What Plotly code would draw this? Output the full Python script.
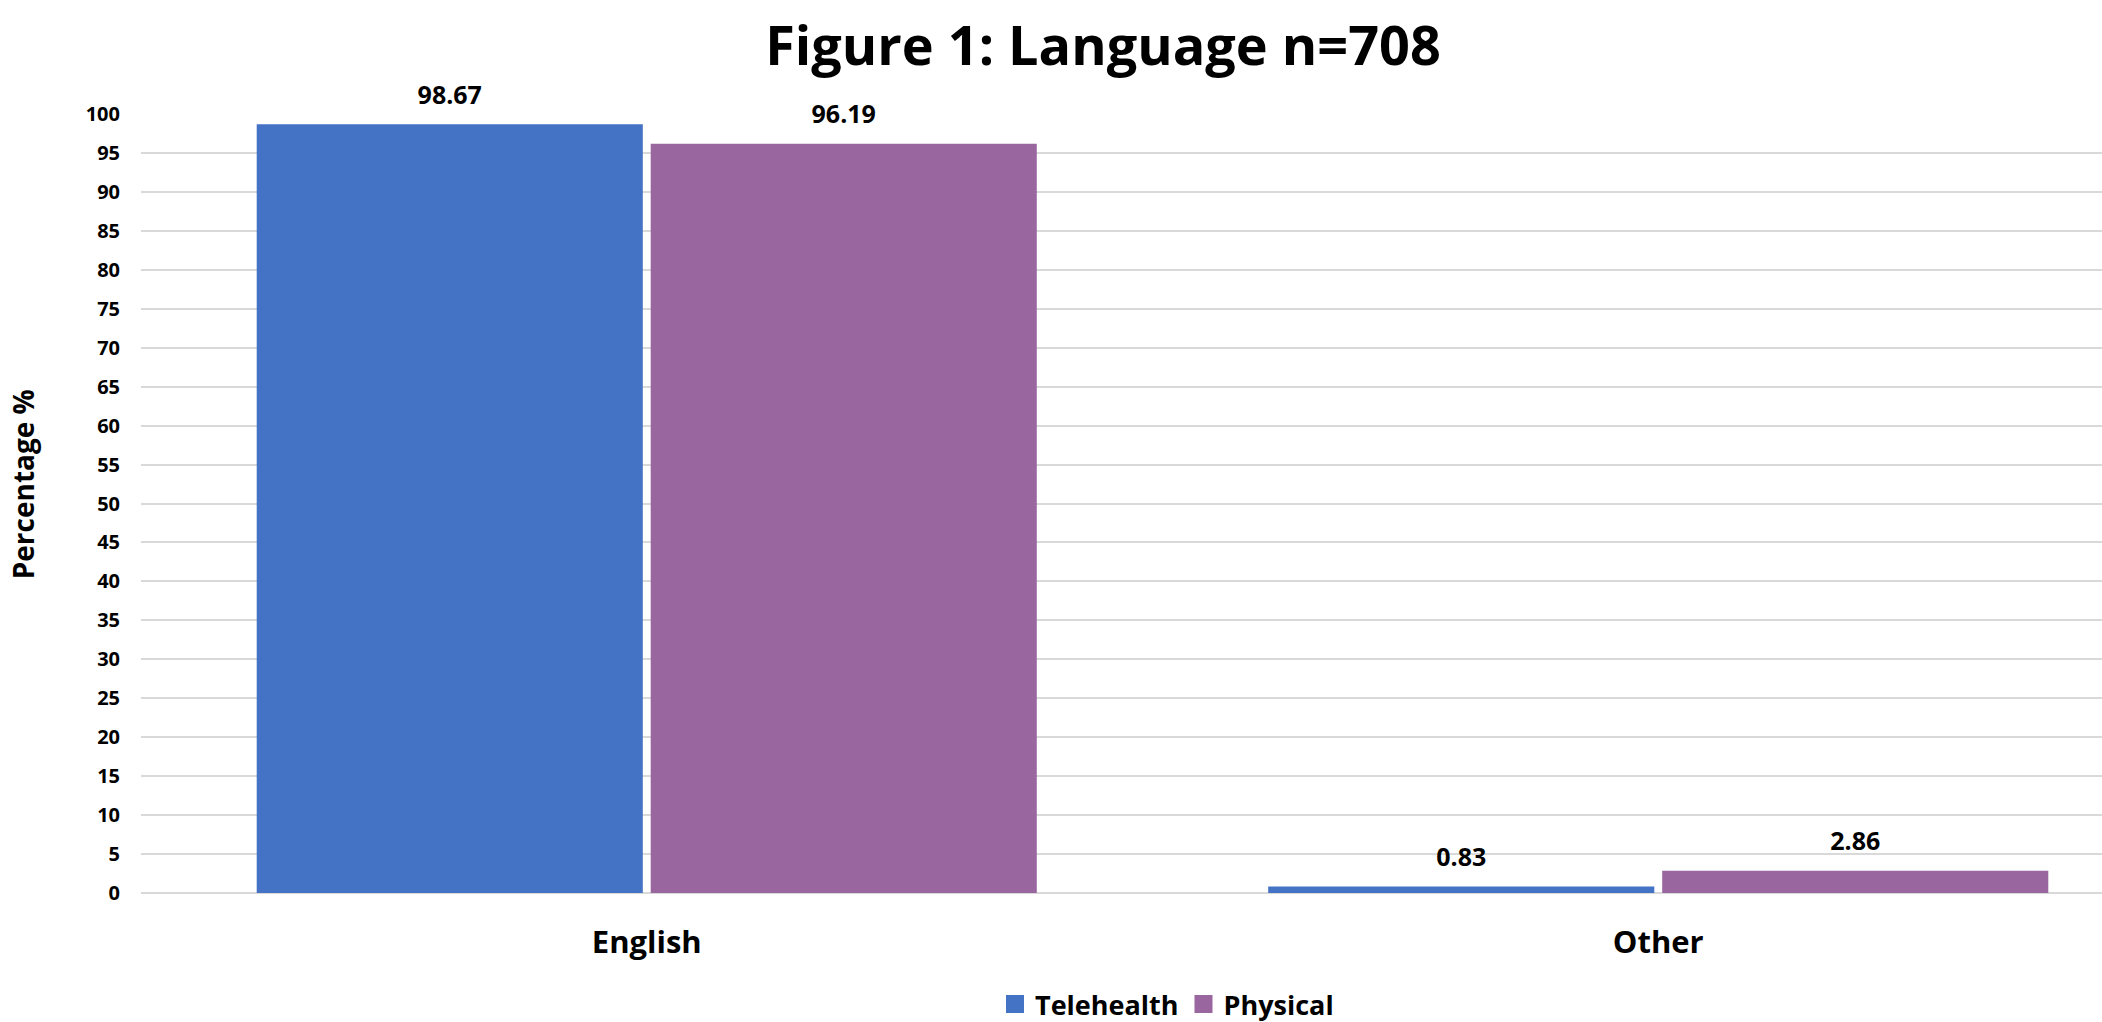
import plotly.graph_objects as go

# Survey breakdown by language, percentage of respondents per delivery mode
categories = ["English", "Other"]
telehealth = [98.67, 0.83]
physical = [96.19, 2.86]
series_names = ["Telehealth", "Physical"]
y_ticks = list(range(0, 101, 5))

BLUE = "#4472C4"
PURPLE = "#9966A0"
FONT = "Open Sans"
GAP = 0.221

series = [(series_names[0], telehealth, BLUE), (series_names[1], physical, PURPLE)]

fig = go.Figure()

for name, vals, color in series:
    fig.add_trace(go.Bar(
        x=categories,
        y=vals,
        name=name,
        marker=dict(color=color, line=dict(width=0)),
        showlegend=False,
        hoverinfo="skip",
    ))

# value labels, grouped the same way as the bars so each sits over its own bar
for name, vals, color in series:
    fig.add_trace(go.Scatter(
        x=categories,
        y=vals,
        mode="markers+text",
        marker=dict(size=21, opacity=0, color=color),
        text=[f"{v:.2f}" for v in vals],
        textposition="top center",
        textfont=dict(family=FONT, size=25, color="black", weight="bold"),
        offsetgroup=name,
        alignmentgroup="labels",
        cliponaxis=False,
        showlegend=False,
        hoverinfo="skip",
    ))

# legend entries with square swatches
for name, color in [(series_names[0], BLUE), (series_names[1], PURPLE)]:
    fig.add_trace(go.Scatter(
        x=[None], y=[None], mode="markers", name=name,
        marker=dict(symbol="square", size=16, color=color,
                    line=dict(width=2, color=color)),
        alignmentgroup="legend",
    ))

W, H = 2102, 1022
left, right, top, bottom = 141, 0, 113.5, 129
plot_w = W - left - right
plot_h = H - top - bottom
cat_w = 1011.5  # pixel width of one category band

fig.update_layout(
    width=W, height=H,
    margin=dict(l=left, r=right, t=top, b=bottom, autoexpand=False),
    paper_bgcolor="white", plot_bgcolor="white",
    barmode="group",
    bargap=GAP,
    bargroupgap=0.02,
    scattermode="group",
    scattergap=GAP,
    font=dict(family=FONT, color="black"),
    title=dict(
        text="<b>Figure 1: Language n=708</b>",
        font=dict(family=FONT, size=54, color="black"),
        x=1103 / W, xref="container", xanchor="center",
        y=1 - 46 / H, yref="container", yanchor="middle",
    ),
    legend=dict(
        orientation="h",
        x=(1167 - left) / plot_w, xanchor="center",
        y=-(1004.5 - (H - bottom)) / plot_h, yanchor="middle",
        font=dict(family=FONT, size=27, color="black", weight="bold"),
        itemwidth=30,
        bgcolor="rgba(0,0,0,0)",
    ),
    xaxis=dict(
        type="category",
        range=[-0.5, -0.5 + plot_w / cat_w],
        showgrid=False,
        showline=False,
        zeroline=False,
        ticks="",
        tickfont=dict(family=FONT, size=31, color="black", weight="bold"),
        ticklabelstandoff=28,
    ),
    yaxis=dict(
        range=[0, 100],
        tickvals=y_ticks,
        ticktext=[str(v) for v in y_ticks],
        showgrid=True,
        gridcolor="#D9D9D9",
        gridwidth=1.5,
        zeroline=True,
        zerolinecolor="#D9D9D9",
        zerolinewidth=1.5,
        showline=False,
        ticks="",
        tickfont=dict(family=FONT, size=20, color="black", weight="bold"),
        ticklabelstandoff=20,
        automargin=False,
    ),
    annotations=[dict(
        text="<b>Percentage %</b>",
        textangle=-90,
        xref="paper", yref="paper",
        x=(23 - left) / plot_w, xanchor="center",
        y=(H - bottom - 484) / plot_h, yanchor="middle",
        showarrow=False,
        font=dict(family=FONT, size=28, color="black"),
    )],
)

fig.write_html("out.html")
